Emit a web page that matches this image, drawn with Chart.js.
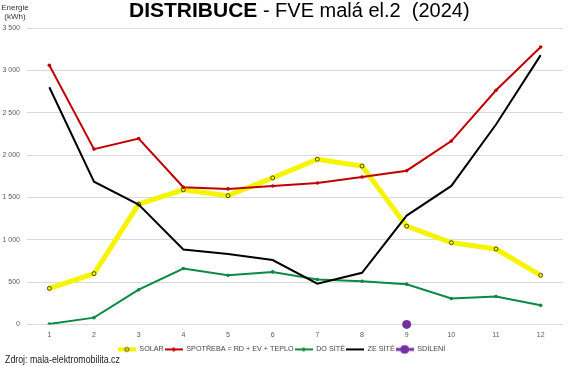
<!DOCTYPE html>
<html>
<head>
<meta charset="utf-8">
<script src="https://cdn.jsdelivr.net/npm/chart.js@4"></script>
<style>
  body { margin: 0; background: #fff; }
  #wrap { position: relative; width: 571px; height: 366px; }
  #title { position: absolute; left: 129px; top: -2px; font-family: "Liberation Sans", Arial, sans-serif; white-space: pre; color: #000; line-height: 24px; }
  #title b { font-size: 21px; }
  #title span { font-size: 20px; }
  #unit { position: absolute; left: 0; top: 3px; width: 30px; text-align: center; font: 8px "Liberation Sans", Arial, sans-serif; line-height: 9px; color: #333; }
  #src { position: absolute; left: 5px; top: 353px; font: 11px "Liberation Sans", Arial, sans-serif; color: #222; transform: scaleX(0.8); transform-origin: left top; white-space: nowrap; }
</style>
</head>
<body>
<div id="wrap">
  <canvas id="myChart" width="571" height="366"></canvas>
  <div id="title"><b>DISTRIBUCE</b><span> - FVE malá el.2  (2024)</span></div>
  <div id="unit">Energie<br>(kWh)</div>
  <div id="src">Zdroj: mala-elektromobilita.cz</div>
</div>
<script>
  const months = ['1', '2', '3', '4', '5', '6', '7', '8', '9', '10', '11', '12'];
  const solar = [425, 600, 1420, 1590, 1520, 1730, 1950, 1870, 1160, 965, 890, 580];
  const spotreba = [3060, 2070, 2195, 1620, 1600, 1635, 1670, 1740, 1815, 2165, 2765, 3275];
  const doSite = [5, 80, 410, 660, 580, 620, 530, 510, 475, 305, 330, 225];
  const zeSite = [2800, 1685, 1415, 885, 830, 760, 480, 610, 1285, 1635, 2360, 3180];
  const sdileni = [null, null, null, null, null, null, null, null, 0, null, null, null];

  // small canvas used as legend symbol: line with marker
  function legendIcon(color, width, marker, mFill, mBorder, r) {
    const c = document.createElement('canvas');
    c.width = 18; c.height = 10;
    const ctx = c.getContext('2d');
    ctx.strokeStyle = color;
    ctx.lineWidth = width;
    ctx.beginPath(); ctx.moveTo(0, 5); ctx.lineTo(18, 5); ctx.stroke();
    if (marker) {
      ctx.beginPath(); ctx.arc(9, 5, r, 0, Math.PI * 2);
      ctx.fillStyle = mFill; ctx.fill();
      ctx.strokeStyle = mBorder; ctx.lineWidth = 1; ctx.stroke();
    }
    return c;
  }

  const icons = [
    legendIcon('#f5f500', 4, true, '#f5f500', '#4a4a00', 2),
    legendIcon('#c00000', 2, true, '#c00000', '#c00000', 1.5),
    legendIcon('#0a8a45', 2, true, '#0a8a45', '#0a8a45', 1.5),
    legendIcon('#000000', 2, false),
    legendIcon('#7030a0', 3, true, '#7030a0', '#7030a0', 4)
  ];

  const data = {
    labels: months,
    datasets: [{
      label: 'SOLAR',
      data: solar,
      borderColor: '#f5f500',
      backgroundColor: '#f5f500',
      borderWidth: 5,
      pointRadius: 2,
      pointBorderWidth: 1,
      pointBorderColor: '#4a4a00',
      pointBackgroundColor: '#f5f500',
      order: 5
    },
    {
      label: 'SPOTŘEBA = RD + EV + TEPLO',
      data: spotreba,
      borderColor: '#c00000',
      backgroundColor: '#c00000',
      borderWidth: 2,
      pointRadius: 1.8,
      pointBorderWidth: 0,
      order: 2
    },
    {
      label: 'DO SÍTĚ',
      data: doSite,
      borderColor: '#0a8a45',
      backgroundColor: '#0a8a45',
      borderWidth: 2,
      pointRadius: 1.8,
      pointBorderWidth: 0,
      order: 3
    },
    {
      label: 'ZE SÍTĚ',
      data: zeSite,
      borderColor: '#000000',
      backgroundColor: '#000000',
      borderWidth: 2,
      pointRadius: 0,
      order: 1
    },
    {
      label: 'SDÍLENÍ',
      data: sdileni,
      borderColor: '#7030a0',
      backgroundColor: '#7030a0',
      borderWidth: 3,
      pointRadius: 4.5,
      pointBorderWidth: 0,
      clip: false,
      order: 0
    }]
  };

  function fmt(v) {
    if (v < 1000) return String(v);
    return Math.floor(v / 1000) + ' ' + String(v % 1000).padStart(3, '0');
  }

  const config = {
    type: 'line',
    data: data,
    options: {
      responsive: false,
      animation: false,
      layout: { padding: { top: 28, right: 8, left: 0, bottom: 3 } },
      plugins: {
        title: { display: false },
        tooltip: { enabled: false },
        legend: {
          position: 'bottom',
          labels: {
            usePointStyle: true,
            pointStyleWidth: 18,
            padding: 1,
            color: '#444',
            font: { family: '"Liberation Sans", Arial', size: 7.2 },
            generateLabels: function (chart) {
              return chart.data.datasets.map(function (ds, i) {
                return { text: ds.label, pointStyle: icons[i], datasetIndex: i, hidden: false, lineWidth: 0, fontColor: '#444' };
              });
            }
          }
        }
      },
      scales: {
        x: {
          offset: true,
          afterFit: function (scale) { scale.height = scale.height + 8; },
          grid: { display: false },
          border: { display: false },
          ticks: { color: '#595959', font: { family: 'Liberation Sans', size: 7 }, padding: -2 }
        },
        y: {
          min: 0,
          max: 3500,
          afterFit: function (scale) { scale.width = 27; },
          grid: { color: '#d9d9d9', drawTicks: false },
          border: { display: false },
          ticks: { stepSize: 500, color: '#595959', font: { family: 'Liberation Sans', size: 7 }, padding: 7, callback: fmt }
        }
      }
    }
  };

  const myChart = new Chart(document.getElementById('myChart'), config);
</script>
</body>
</html>
